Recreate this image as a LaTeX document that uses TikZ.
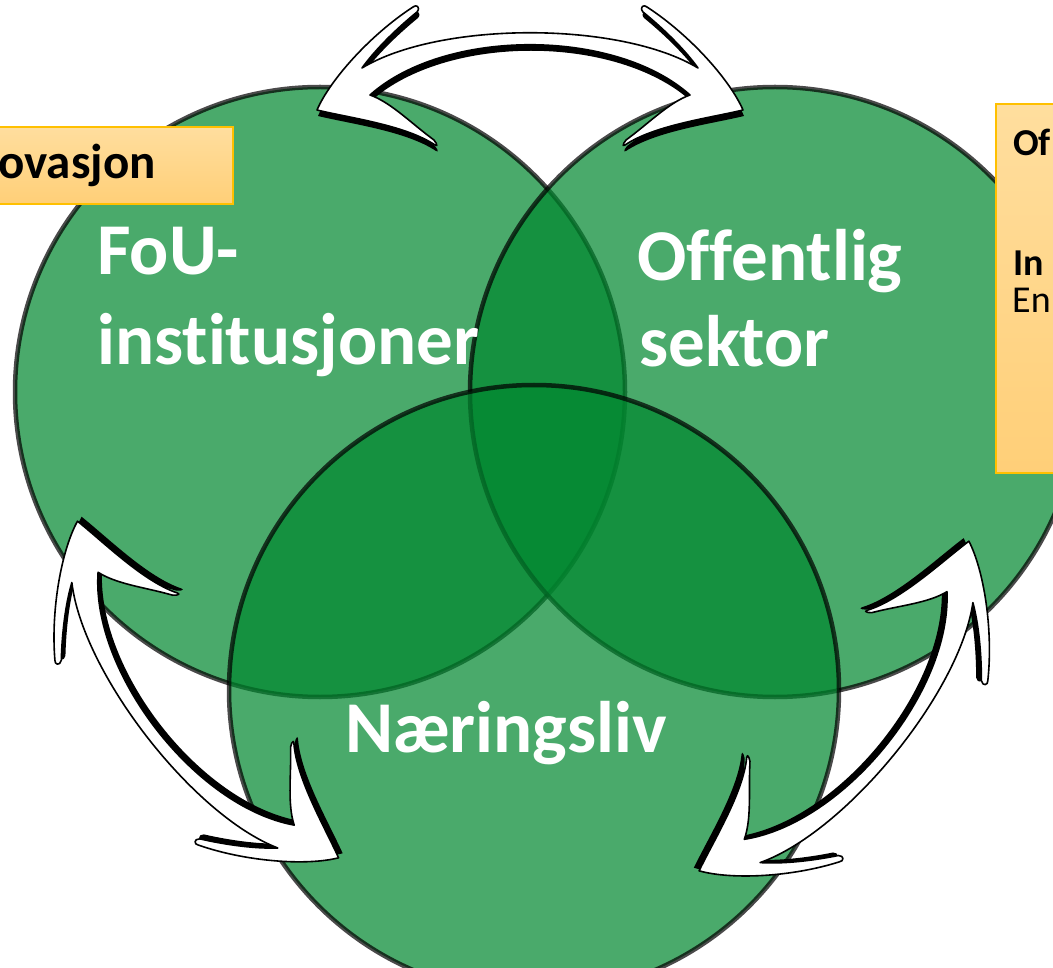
\documentclass[tikz,border=0pt]{standalone}
\usepackage{fontspec}
\setmainfont{Carlito}[Ligatures=CommonOff]
\definecolor{vgreen}{RGB}{0,135,47}
\definecolor{boxtop}{RGB}{255,222,158}
\definecolor{boxbot}{RGB}{255,207,120}
\definecolor{boxline}{RGB}{255,192,0}
\tikzset{
  venn/.style={circle, minimum size=610, inner sep=0, fill=vgreen, draw=black, line width=4.5, opacity=0.71},
  lbl/.style={text=white, font=\fontsize{73}{88}\selectfont\bfseries, inner sep=0, anchor=base west},
  obox/.style={draw=boxline, line width=2, top color=boxtop, bottom color=boxbot, inner sep=0, anchor=north west},
  boxtxt/.style={text=black, inner sep=0},
  arrowp/.style={insert path={
    (-213,0) .. controls (-200,-30) and (-160,-75) .. (-117,-103)
    .. controls (-114,-106) and (-109,-103) .. (-113,-98)
    .. controls (-135,-80) and (-155,-60) .. (-168,-42)
    .. controls (-90,-89) and (90,-89) .. (168,-42)
    .. controls (155,-60) and (135,-80) .. (113,-98)
    .. controls (109,-103) and (114,-106) .. (117,-103)
    .. controls (160,-75) and (200,-30) .. (213,0)
    .. controls (180,8) and (125,15) .. (95,35)
    .. controls (91,38) and (94,30) .. (100,27)
    .. controls (120,12) and (140,-8) .. (160,-15)
    .. controls (85,-82) and (-85,-82) .. (-160,-15)
    .. controls (-140,-8) and (-120,12) .. (-100,27)
    .. controls (-94,30) and (-91,38) .. (-95,35)
    .. controls (-125,15) and (-180,8) .. (-213,0) -- cycle}},
  dblarrow/.pic={
    \fill[black, shift={(1,6)}, arrowp];
    \filldraw[fill=white, draw=black, line width=1.6, line join=round, arrowp];
  }
}
\begin{document}
\begin{tikzpicture}[x=1pt, y=-1pt]
\useasboundingbox (0,0) rectangle (1053,968);
\clip (0,0) rectangle (1053,968);
% Venn circles
\node[venn] (fou) at (320,392) {};
\node[venn] (off) at (775,392) {};
\node[venn] (nar) at (534,690) {};
% labels
\node[lbl] (fou1) at (97,275) {FoU-};
\node[lbl] (fou2) at (97,365) {institusjoner};
\node[lbl] (off1) at (637,281) {Offentlig};
\node[lbl] (off2) at (639,367) {sektor};
\node[lbl] (nar1) at (345,752) {Næringsliv};
% side boxes
\node[obox, minimum width=245, minimum height=77] (lbox) at (-13,126) {};
\node[boxtxt, anchor=base east, font=\fontsize{49}{58}\selectfont\bfseries] (ltxt) at (156,179) {ovasjon};
\node[obox, minimum width=80, minimum height=369] (rbox) at (995,103) {};
\node[boxtxt, anchor=base west, font=\fontsize{38}{45}\selectfont\bfseries] (rt1) at (1013,156) {Of};
\node[boxtxt, anchor=base west, font=\fontsize{38}{45}\selectfont\bfseries] (rt2) at (1013,276) {In};
\node[boxtxt, anchor=base west, font=\fontsize{38}{45}\selectfont] (rt3) at (1012,313) {En};
% double arrows
\pic (atop) at (530,110) {dblarrow};
\pic[rotate=127.8] (aleft) at (208,689.5) {dblarrow};
\pic[rotate=-129.3] (aright) at (834,706) {dblarrow};
\end{tikzpicture}
\end{document}
